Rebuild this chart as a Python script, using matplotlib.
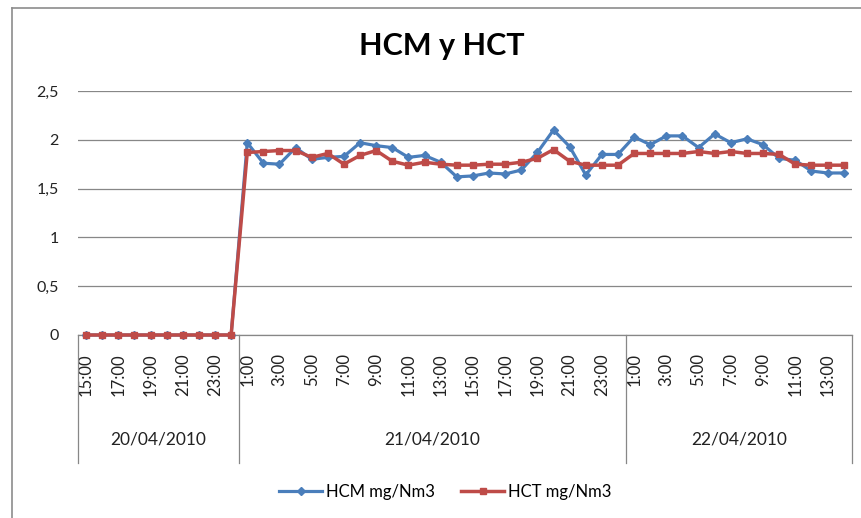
import matplotlib
matplotlib.use('Agg')
import matplotlib.pyplot as plt
from matplotlib.lines import Line2D

plt.rcParams['font.family'] = ['Lato', 'DejaVu Sans']

# Hours per day (0:00 of next day is kept at the end of the previous day)
hours_d1 = ['15:00', '16:00', '17:00', '18:00', '19:00', '20:00', '21:00', '22:00', '23:00', '0:00']
hours_d2 = [f'{h}:00' for h in range(1, 24)] + ['0:00']
hours_d3 = [f'{h}:00' for h in range(1, 15)]
dates = ['20/04/2010', '21/04/2010', '22/04/2010']

hcm = [0, 0, 0, 0, 0, 0, 0, 0, 0, 0,
       1.97, 1.76, 1.75, 1.92, 1.80, 1.82, 1.83, 1.97, 1.94, 1.92, 1.82, 1.84,
       1.77, 1.62, 1.63, 1.66, 1.65, 1.69, 1.87, 2.10, 1.93, 1.64, 1.85, 1.85,
       2.03, 1.95, 2.04, 2.04, 1.92, 2.06, 1.97, 2.01, 1.95, 1.81, 1.79, 1.68, 1.66, 1.66]
hct = [0, 0, 0, 0, 0, 0, 0, 0, 0, 0,
       1.87, 1.88, 1.89, 1.89, 1.82, 1.86, 1.75, 1.84, 1.89, 1.78, 1.74, 1.77,
       1.75, 1.74, 1.74, 1.75, 1.75, 1.77, 1.81, 1.90, 1.78, 1.74, 1.74, 1.74,
       1.86, 1.86, 1.86, 1.86, 1.88, 1.86, 1.88, 1.86, 1.86, 1.85, 1.75, 1.74, 1.74, 1.74]

y_ticks = [0, 0.5, 1, 1.5, 2, 2.5]
y_labels = ['0', '0,5', '1', '1,5', '2', '2,5']

blue = '#4A7EBB'
red = '#BE4B48'
grid_col = '#878787'

hours = hours_d1 + hours_d2 + hours_d3
x = list(range(len(hours)))

W, H = 862, 518
fig = plt.figure(figsize=(W / 100, H / 100), dpi=100)
ax = fig.add_axes([78 / W, 1 - 335 / H, 773.7 / W, 244 / H])

ax.plot(x, hcm, color=blue, lw=2.3, marker='D', ms=4.2, label='HCM mg/Nm3', clip_on=False, zorder=3)
ax.plot(x, hct, color=red, lw=2.5, marker='s', ms=4.6, label='HCT mg/Nm3', clip_on=False, zorder=4)

ax.set_xlim(-0.5, len(hours) - 0.5)
ax.set_ylim(0, 2.5)
ax.set_yticks(y_ticks)
ax.set_yticklabels(y_labels, fontsize=11.5, color='#222222')
ax.yaxis.grid(True, color=grid_col, lw=0.9)
ax.set_axisbelow(True)
ax.tick_params(axis='y', length=0, pad=14)

# every other hour gets a label
ax.set_xticks(x[::2])
ax.set_xticklabels(hours[::2], rotation=90, fontsize=12, color='#222222')
ax.tick_params(axis='x', length=0, pad=13)

for s in ['left', 'right', 'top']:
    ax.spines[s].set_visible(False)
ax.spines['bottom'].set_color(grid_col)
ax.spines['bottom'].set_linewidth(0.9)

# date groups under the hours
trans = ax.get_xaxis_transform()
sizes = [len(hours_d1), len(hours_d2), len(hours_d3)]
bounds = [-0.5]
for n in sizes:
    bounds.append(bounds[-1] + n)
for b in bounds:
    ax.plot([b, b], [0, -0.525], transform=trans, color=grid_col, lw=0.9, clip_on=False)
for i, d in enumerate(dates):
    ax.text((bounds[i] + bounds[i + 1]) / 2, -0.43, d, transform=trans,
            ha='center', va='center', fontsize=12.5, color='#222222')

fig.text(442 / W, 1 - 46 / H, 'HCM y HCT', ha='center', va='center',
         fontsize=22, fontweight='bold', color='black')

handles = [Line2D([], [], color=blue, lw=2.3, marker='D', ms=4.2),
           Line2D([], [], color=red, lw=2.5, marker='s', ms=4.6)]
fig.legend(handles, ['HCM mg/Nm3', 'HCT mg/Nm3'], loc='center', bbox_to_anchor=(445 / W, 1 - 492 / H),
           ncol=2, frameon=False, fontsize=12, handlelength=2.6, handletextpad=0.2, columnspacing=1.6)

# outer chart border (cropped on the right and bottom)
fig.add_artist(Line2D([12 / W, 12 / W], [0, 1 - 8 / H], color='#8c8c8c', lw=1.2))
fig.add_artist(Line2D([12 / W, 1], [1 - 8 / H, 1 - 8 / H], color='#8c8c8c', lw=1.2))

fig.savefig('out.png', dpi=100)
